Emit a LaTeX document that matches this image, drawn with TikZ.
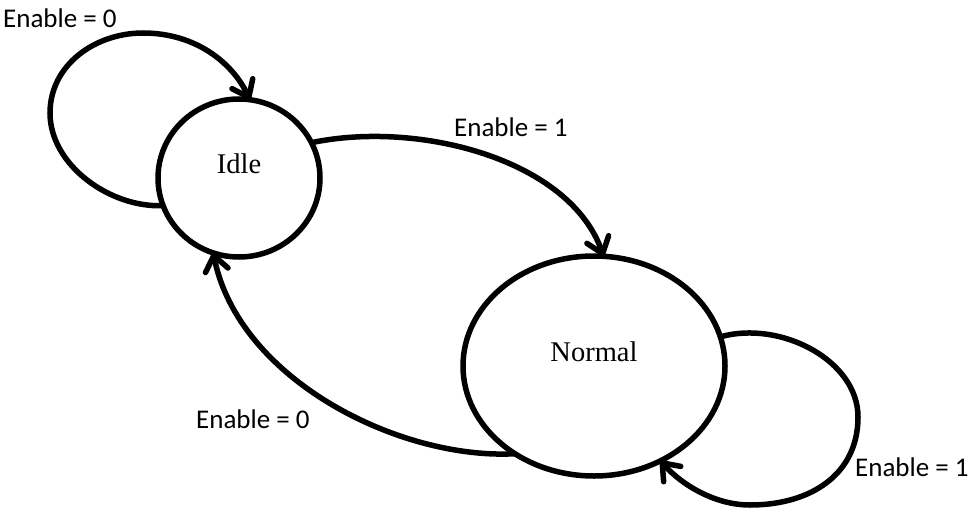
\documentclass[tikz,border=0pt]{standalone}
\usepackage{fontspec}
\setmainfont{Liberation Serif}
\newfontfamily\condfont{Carlito}
\usetikzlibrary{shapes.geometric,arrows.meta}

\begin{document}
\begin{tikzpicture}[x=1pt,y=-1pt,
  state/.style={draw, ellipse, line width=5.5pt, inner sep=0pt, outer sep=0pt},
  statename/.style={font=\fontsize{28.5}{30}\selectfont, yshift=14pt},
  trans/.style={line width=5.5pt, -{Straight Barb[length=15pt,width=23pt,round]}},
  cond/.style={font=\condfont\fontsize{27}{30}\selectfont, anchor=base west, inner sep=0pt}]

  \useasboundingbox (0,0) rectangle (971,508);

  % states
  \node[state, minimum width=162pt, minimum height=158pt,
        label={[statename]center:Idle}] (Idle) at (239,178) {};
  \node[state, minimum width=262pt, minimum height=220pt,
        label={[statename]center:Normal}] (Normal) at (594,366) {};

  % Idle -> Idle
  \draw[trans] (Idle.200.8)
    .. controls (110,208) and (50,165) .. (50,113)
    .. controls (50,65) and (95,33) .. (143,33)
    .. controls (195,33) and (232,62) .. (Idle.82);

  % Idle -> Normal
  \draw[trans] (Idle.26.3) .. controls (420,120) and (570,160) .. (Normal.85);

  % Normal -> Idle
  \draw[trans] (Normal.228.5) .. controls (400,460) and (239,380) .. (Idle.251);

  % Normal -> Normal
  \draw[trans] (Normal.13.2)
    .. controls (780,320) and (858,360) .. (858,417)
    .. controls (858,475) and (810,505) .. (750,505)
    .. controls (715,505) and (682,485) .. (Normal.305.7);

  % transition conditions
  \node[cond] (c1) at (3,28) {Enable = 0};
  \node[cond] (c2) at (454,136) {Enable = 1};
  \node[cond] (c3) at (196,428) {Enable = 0};
  \node[cond] (c4) at (855,476) {Enable = 1};
\end{tikzpicture}
\end{document}
